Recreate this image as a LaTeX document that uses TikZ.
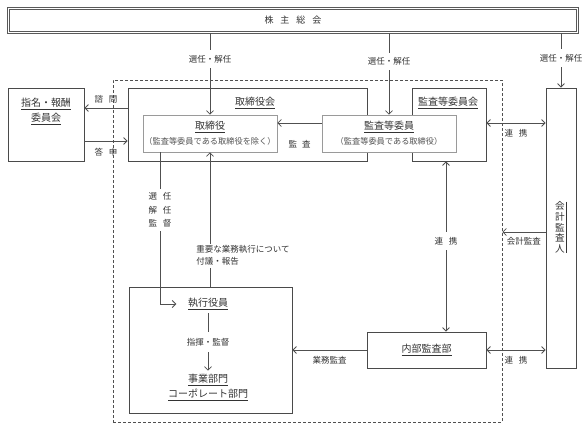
\documentclass[tikz,border=0pt]{standalone}
\usepackage{fontspec}
\setmainfont{Noto Sans CJK JP}
\usetikzlibrary{arrows.meta}
\definecolor{linec}{HTML}{505050}
\definecolor{boxc}{HTML}{4A4A4A}
\definecolor{innerc}{HTML}{9A9A9A}
\definecolor{txtc}{HTML}{333333}
\begin{document}
\begin{tikzpicture}[x=1pt, y=-1pt, line width=0.8pt,
  font=\fontsize{8.5}{12}\selectfont, text=txtc,
  box/.style={draw=boxc, fill=white, inner sep=0pt},
  ibox/.style={draw=innerc, fill=white, inner sep=0pt, line width=0.7pt},
  arr/.style={draw=linec, -{Straight Barb[length=3.5pt,width=7pt]}},
  arrs/.style={draw=linec, {Straight Barb[length=3.5pt,width=7pt]}-{Straight Barb[length=3.5pt,width=7pt]}},
  cut/.style={fill=white, inner xsep=1pt, inner ysep=5pt},
  big/.style={font=\fontsize{10}{15}\selectfont},
  subf/.style={font=\fontsize{8.2}{10}\selectfont, text=txtc!85}]
\useasboundingbox (0,0) rectangle (587,426);

% group (dashed)
\node[draw=linec, dashed, dash pattern=on 3pt off 2pt, line width=0.7pt, inner sep=0pt,
      minimum width=389pt, minimum height=342pt] (grp) at (307.5,251) {};

% shareholders
\node[draw=gray!70!black, double, double distance=1.4pt, line width=0.6pt, inner sep=0pt,
      minimum width=569pt, minimum height=24pt, font=\fontsize{9}{11}\selectfont]
      (top) at (293,20.5) {株\hspace{7pt}主\hspace{7pt}総\hspace{7pt}会};

% committees and boards
\node[box, minimum width=76pt, minimum height=73pt] (nom) at (46,124.5) {};
\node[big, align=center] (nomL) at (46,111.5) {\underline{指名・報酬}\\\underline{委員会}};

\node[box, minimum width=239pt, minimum height=73pt] (board) at (247.5,124.5) {};
\node[big] (boardL) at (255,103) {\underline{取締役会}};

\node[box, minimum width=74pt, minimum height=73pt] (acb) at (449,124.5) {};
\node[big] (acbL) at (448,103) {\underline{監査等委員会}};

\node[ibox, minimum width=134pt, minimum height=37pt] (dir) at (210,133.5) {};
\node[big] (dirT) at (210,127) {\underline{取締役}};
\node[subf] (dirS) at (210,141) {（監査等委員である取締役を除く）};

\node[ibox, minimum width=134pt, minimum height=37pt] (acm) at (389,133.5) {};
\node[big] (acmT) at (389,127) {\underline{監査等委員}};
\node[subf] (acmS) at (389,141) {（監査等委員である取締役）};

\node[box, minimum width=30pt, minimum height=280pt] (aud) at (561,228) {};
\node[font=\fontsize{9.6}{10.6}\selectfont, align=center, inner xsep=0.8pt, inner ysep=0pt] (audL) at (560,227.5) {会\\計\\監\\査\\人};
\draw[draw=txtc, line width=0.5pt] (audL.north east) -- (audL.south east);

\node[box, minimum width=163pt, minimum height=126pt] (exec) at (210.5,350) {};
\node[big] (eo) at (208,304) {\underline{執行役員}};
\node[big, align=center] (bu) at (208,387.5) {\underline{事業部門}\\\underline{コーポレート部門}};

\node[box, minimum width=119pt, minimum height=36pt, big] (ia) at (426.5,350) {\underline{内部監査部}};

% helper coordinates
\coordinate (y108) at (0,108);
\coordinate (y141) at (0,141);
\coordinate (y123) at (0,123);
\coordinate (y232) at (0,232);
\coordinate (x446) at (446,0);
\coordinate (x160) at (160,0);

% connectors
\draw[arr] (top.south -| dir.north) -- node[cut, pos=0.32]{選任・解任} (dir.north);
\draw[arr] (top.south -| acm.north) -- node[cut, pos=0.35]{選任・解任} (acm.north);
\draw[arr] (top.south -| aud.north) -- node[cut, pos=0.46]{選任・解任} (aud.north);

\draw[arr] (board.west |- y108) -- node[above=1pt]{諮\hspace{6pt}問} (nom.east |- y108);
\draw[arr] (nom.east |- y141) -- node[below=3pt]{答\hspace{6pt}申} (board.west |- y141);
\draw[arr] (acm.west |- y123) -- node[below=14pt]{監\hspace{5pt}査} (dir.east |- y123);
\draw[arrs] (acb.east |- y123) -- node[below=3pt]{連\hspace{6pt}携} (aud.west |- y123);
\draw[arrs] (acb.south -| x446) -- node[cut, pos=0.47]{連\hspace{6pt}携} (ia.north -| x446);
\draw[arr] (aud.west |- y232) -- node[below=2pt]{会計監査} (grp.east |- y232);
\draw[arrs] (ia.east) -- node[below=3pt]{連\hspace{6pt}携} (aud.west |- ia.east);
\draw[arr] (ia.west) -- node[below=3pt]{業務監査} (exec.east |- ia.west);

\draw[arr] (dir.south |- exec.north) -- node[pos=0.23, anchor=west, xshift=-16pt, fill=white,
  align=left, inner sep=2pt]{重要な業務執行について\\付議・報告} (dir.south);

\draw[arr, shorten >=8pt] (dir.south -| x160) |- node[cut, inner ysep=4pt, pos=0.19, align=center,
  font=\fontsize{8.5}{13.5}\selectfont]{選\hspace{6pt}任\\解\hspace{6pt}任\\監\hspace{6pt}督} (eo.west);

\draw[arr] (eo.south) -- node[cut, inner ysep=6pt]{指揮・監督} (bu.north);
\end{tikzpicture}
\end{document}
